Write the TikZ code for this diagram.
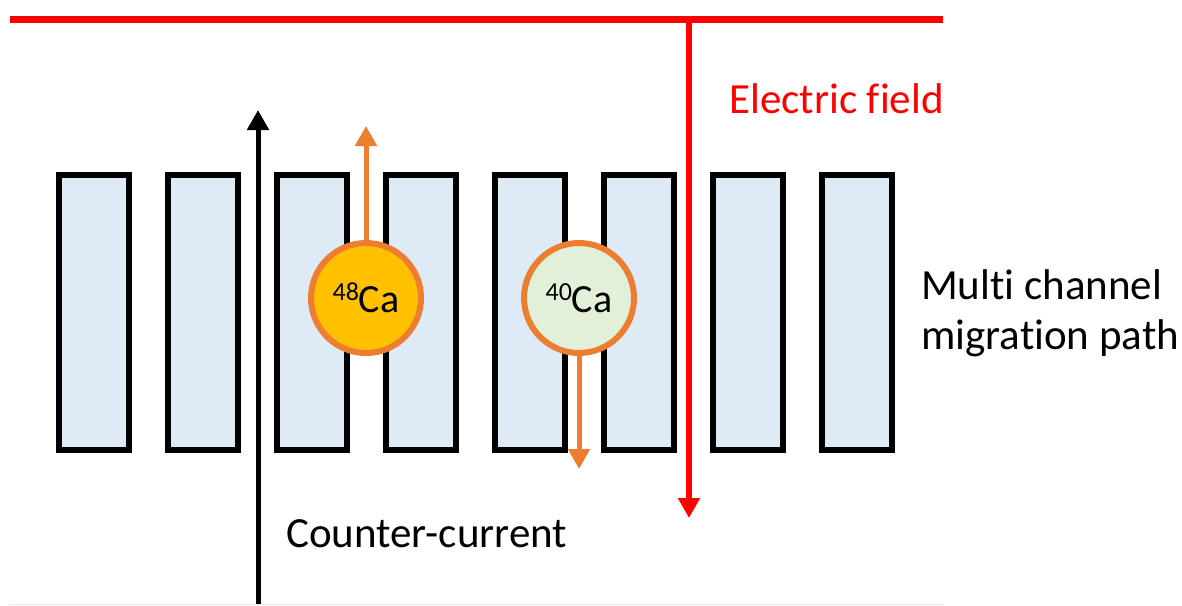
\documentclass[tikz,border=0pt]{standalone}
\usepackage{fontspec}
\setmainfont[Ligatures=NoCommon]{Carlito}
\usepackage{tikz}
\usetikzlibrary{positioning, arrows.meta}
\definecolor{fieldred}{HTML}{FF0000}
\definecolor{ionorange}{HTML}{ED7D31}
\definecolor{channelblue}{HTML}{DEEBF7}
\definecolor{heavygold}{HTML}{FFC000}
\definecolor{lightgreen}{HTML}{E2F0D9}
\newcommand{\iso}[2]{\raisebox{12pt}{\fontsize{26}{26}\selectfont #1}#2}

\begin{document}
\begin{tikzpicture}[x=1pt, y=-1pt,
  channel/.style={draw=black, fill=channelblue, line width=6pt,
                  minimum width=70pt, minimum height=275pt, inner sep=0pt},
  ion/.style={circle, draw=ionorange, line width=6pt, minimum size=110pt,
              inner sep=0pt, font=\fontsize{40}{40}\selectfont},
  flow/.style={line width=5pt, -{Triangle[length=20pt, width=21pt]}},
  caption/.style={font=\fontsize{43}{50}\selectfont, inner sep=0pt}]
  \useasboundingbox (0,0) rectangle (1182,605);

  % channels of the migration path
  \foreach \i in {1,...,8}
    \node[channel] (ch\i) at ({94+109*(\i-1)}, 312.5) {};

  % counter-current
  \coordinate (ccbot) at (258,605);
  \coordinate (cctop) at (258,110);
  \draw[flow] (ccbot) -- (cctop);
  \node[caption, anchor=base west] (cclabel) at (286,547) {Counter-current};

  % electric field
  \coordinate (fleft) at (10,19);
  \coordinate (fright) at (943,19);
  \coordinate (fjoin) at (689,19);
  \coordinate (fdown) at (689,518);
  \draw[fieldred, line width=7pt] (fleft) -- (fright);
  \draw[fieldred, flow, line width=6pt] (fjoin) -- (fdown);
  \node[caption, text=fieldred, anchor=base east] (flabel) at (944,113) {Electric field};

  % ions
  \coordinate (up48) at (366,126);
  \coordinate (down40) at (579,469);
  \draw[ionorange, flow] (366,298) -- (up48);
  \draw[ionorange, flow] (579,298) -- (down40);
  \node[ion, fill=heavygold] (ca48) at (366,298) {\iso{48}{Ca}};
  \node[ion, fill=lightgreen] (ca40) at (579,298) {\iso{40}{Ca}};

  \node[caption, anchor=west, align=left] (pathlabel) at (921,313)
    {Multi channel\\migration path};

  \draw[black!8, line width=1pt] (10,604) -- (943,604);
\end{tikzpicture}
\end{document}
